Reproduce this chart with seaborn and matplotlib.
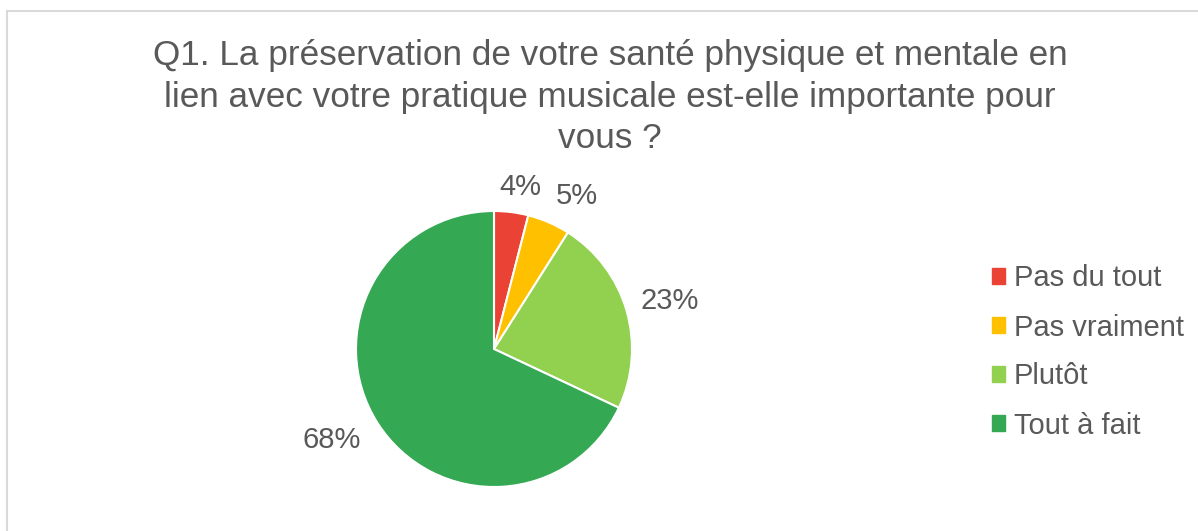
import matplotlib
matplotlib.use('Agg')
import numpy as np
import matplotlib.pyplot as plt
import matplotlib.patches as mpatches
import seaborn as sns

# data
categories = ['Pas du tout', 'Pas vraiment', 'Plutôt', 'Tout à fait']
values = [4, 5, 23, 68]
colors = ['#EA4335', '#FFC000', '#92D050', '#34A853']
title = ('Q1. La préservation de votre santé physique et mentale en\n'
         'lien avec votre pratique musicale est-elle importante pour\n'
         'vous ?')

# label placement (outside end, best fit)
label_dist = [1.19, 1.26, 1.32, 1.35]
label_shift = [-2, -5, -1, -3]

sns.set_theme(style='white')
plt.rcParams['font.family'] = ['Liberation Sans', 'DejaVu Sans']
text_color = '#595959'

W, H = 1198, 531
fig = plt.figure(figsize=(W / 100, H / 100), dpi=100)
fig.patch.set_facecolor('white')

# chart frame
fig.patches.append(mpatches.Rectangle((7 / W, -0.05), 1.2, (H - 11) / H + 0.05,
                                      transform=fig.transFigure, fill=False,
                                      edgecolor='#D9D9D9', lw=1.5))

cx, cy, r = 494, 349, 138
ax = fig.add_axes([(cx - r) / W, (H - cy - r) / H, 2 * r / W, 2 * r / H])
wedges, texts, autotexts = ax.pie(
    values, colors=colors, startangle=90, counterclock=False,
    autopct='%d%%', pctdistance=1.25, radius=1.0,
    wedgeprops=dict(edgecolor='white', linewidth=1.5),
    textprops=dict(color=text_color, fontsize=21))
for w, t, d, s in zip(wedges, autotexts, label_dist, label_shift):
    ang = np.deg2rad((w.theta1 + w.theta2) / 2 + s)
    t.set_position((d * np.cos(ang), d * np.sin(ang)))
ax.set_aspect('equal')
ax.set_xlim(-1, 1)
ax.set_ylim(-1, 1)
ax.axis('off')

fig.text(610 / W, 1 - 97 / H, title, ha='center', va='center',
         fontsize=25.3, color=text_color, linespacing=1.33)

handles = [mpatches.Patch(color=c, label=l) for c, l in zip(colors, categories)]
fig.legend(handles=handles, loc='center left', bbox_to_anchor=(966 / W, 1 - 352 / H),
           frameon=False, fontsize=21, labelcolor=text_color,
           handlelength=0.45, handleheight=0.45, handletextpad=0.3,
           labelspacing=0.72)

fig.savefig('out.png', dpi=100, facecolor='white')
